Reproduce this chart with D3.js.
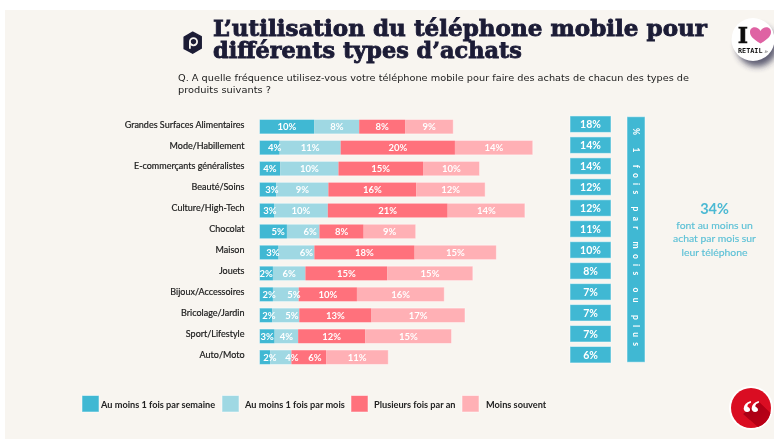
<!DOCTYPE html>
<html lang="fr"><head><meta charset="utf-8">
<script src="https://cdn.jsdelivr.net/npm/d3@7/dist/d3.min.js"></script>
<style>html,body{margin:0;padding:0;background:#fff;overflow:hidden}svg{display:block}</style>
</head><body><svg id="c" width="774" height="439"></svg>
<script>
// ---------- data ----------
const categories = ["Grandes Surfaces Alimentaires","Mode/Habillement","E-commerçants généralistes","Beauté/Soins","Culture/High-Tech","Chocolat","Maison","Jouets","Bijoux/Accessoires","Bricolage/Jardin","Sport/Lifestyle","Auto/Moto"];
const seriesNames = ["Au moins 1 fois par semaine","Au moins 1 fois par mois","Plusieurs fois par an","Moins souvent"];
const weekly  = [9.8,3.6,3.7,3.0,2.6,4.9,3.4,2.4,2.4,2.3,2.7,1.9];
const monthly = [8.0,10.9,10.4,9.3,9.6,5.8,6.4,5.8,4.6,4.8,4.2,3.8];
const yearly  = [8.2,20.4,15.1,15.7,21.4,7.9,17.9,14.6,10.4,12.9,12.0,6.2];
const rarely  = [8.6,13.9,10.1,12.3,13.8,9.3,14.6,15.3,15.6,16.7,15.4,11.1];
const monthlyOrMore = [18,14,14,12,12,11,10,8,7,7,7,6];
const titleLines = ["L’utilisation du téléphone mobile pour","différents types d’achats"];
const questionLines = ["Q. A quelle fréquence utilisez-vous votre téléphone mobile pour faire des achats de chacun des types de","produits suivants ?"];
const stripText = "% 1 fois par mois ou plus";
const calloutValue = "34%";
const calloutLines = ["font au moins un","achat par mois sur","leur téléphone"];

// ---------- layout / style ----------
const colors = ["#41b8d3","#9fd8e3","#ff717c","#ffb0b5"];
const legendX = [[82,101],[222,245],[351,374],[462,486]];
// sideways shift of some value labels, in px: [row, series, dx]
const labelNudge = [[1,0,5],[3,0,4],[4,0,3],[5,0,5],[5,1,7],[6,0,4],[6,1,10],[8,0,3],[8,1,8],[9,0,3],[9,1,6],[11,0,5],[11,1,11],[11,2,6]];
const nudge = (r,s)=>{const n=labelNudge.find(d=>d[0]===r&&d[1]===s);return n?n[2]:0;};
const sans = "Lato, 'Open Sans', sans-serif";

const svg = d3.select("#c");
const defs = svg.append("defs");
defs.append("filter").attr("id","soft").attr("x","-5%").attr("y","-5%").attr("width","110%").attr("height","110%")
  .append("feGaussianBlur").attr("stdDeviation",0.35);
defs.append("filter").attr("id","shadow").attr("x","-50%").attr("y","-50%").attr("width","200%").attr("height","200%")
  .append("feGaussianBlur").attr("stdDeviation",3);
const lg = defs.append("linearGradient").attr("id","fold").attr("x1",0).attr("y1",0).attr("x2",1).attr("y2",1);
lg.append("stop").attr("offset",0).attr("stop-color","#a00013");
lg.append("stop").attr("offset",1).attr("stop-color","#c00016");

svg.append("rect").attr("x",5).attr("y",10).attr("width",769).attr("height",429).attr("fill","#f8f5f0");
svg.append("circle").attr("cx",757).attr("cy",46).attr("r",20.5).attr("fill","#2c2c48").attr("opacity",.75).attr("filter","url(#shadow)");
const g = svg.append("g").attr("filter","url(#soft)");

// scales
const x = d3.scaleLinear().domain([0,50]).range([259.5,539.5]);
const y = d3.scaleBand().domain(categories).range([116.2,367.7]).paddingInner(0.31).paddingOuter(0.155);
const color = d3.scaleOrdinal().domain(seriesNames).range(colors);
const table = categories.map((c,i)=>({category:c,[seriesNames[0]]:weekly[i],[seriesNames[1]]:monthly[i],[seriesNames[2]]:yearly[i],[seriesNames[3]]:rarely[i]}));
const stacked = d3.stack().keys(seriesNames)(table);

// category axis
const yAxis = g.append("g").attr("transform","translate(250,-2)")
  .call(d3.axisLeft(y).tickSize(0).tickPadding(5.5));
yAxis.select(".domain").remove();
yAxis.selectAll("text").attr("font-family",sans).attr("font-size",9).attr("fill","#1c1c1c").attr("stroke","#1c1c1c").attr("stroke-width",.2);

// bars
const layers = g.selectAll("g.layer").data(stacked).join("g").attr("class","layer").attr("fill",d=>color(d.key));
layers.selectAll("rect").data(d=>d).join("rect")
  .attr("x",d=>x(d[0])).attr("width",d=>x(d[1])-x(d[0]))
  .attr("y",d=>y(d.data.category)).attr("height",y.bandwidth());
g.selectAll("rect.edge").data(categories).join("rect").attr("class","edge")
  .attr("x",x(0)).attr("y",d=>y(d)).attr("height",y.bandwidth())
  .attr("width",(d,i)=>x(weekly[i]+monthly[i]+yearly[i]+rarely[i])-x(0))
  .attr("fill","none").attr("stroke","#fff").attr("stroke-opacity",.45).attr("stroke-width",1);

// value labels
stacked.forEach((layer,s)=>{
  g.append("g").selectAll("text").data(layer).join("text")
    .attr("x",(d,r)=>(x(d[0])+x(d[1]))/2+nudge(r,s)).attr("y",d=>y(d.data.category)+y.bandwidth()/2)
    .attr("dy","0.36em").attr("text-anchor","middle")
    .attr("font-family",sans).attr("font-size",9.5).attr("font-weight",700).attr("fill","#fff")
    .text(d=>d3.format(".0f")(d[1]-d[0])+"%");
});

// right column
const boxes = g.append("g").attr("transform","translate(0,-2.5)");
boxes.selectAll("rect").data(categories).join("rect")
  .attr("x",570).attr("width",41).attr("y",d=>y(d)-1).attr("height",y.bandwidth()+2)
  .attr("fill",colors[0]).attr("stroke","#fff").attr("stroke-opacity",.5);
boxes.selectAll("text").data(categories).join("text")
  .attr("x",590.5).attr("y",d=>y(d)+y.bandwidth()/2).attr("dy","0.36em").attr("text-anchor","middle")
  .attr("font-family",sans).attr("font-size",10.5).attr("font-weight",700).attr("fill","#fff")
  .text((d,i)=>monthlyOrMore[i]+"%");
g.append("rect").attr("x",627).attr("y",116.7).attr("width",18).attr("height",245.5).attr("fill",colors[0]).attr("stroke","#fff").attr("stroke-opacity",.5);
g.append("text").attr("transform","translate(636,128) rotate(90)").attr("dy","0.34em")
  .attr("textLength",218).attr("lengthAdjust","spacing")
  .attr("font-family",sans).attr("font-size",8.5).attr("font-weight",700).attr("fill","#fff").text(stripText);

// callout
g.append("text").attr("x",714.5).attr("y",214).attr("text-anchor","middle").attr("font-family",sans)
  .attr("font-size",14.5).attr("font-weight",700).attr("fill","#4bb9d3").text(calloutValue);
g.append("g").selectAll("text").data(calloutLines).join("text")
  .attr("x",714.5).attr("y",(d,i)=>228.5+i*13.7).attr("text-anchor","middle").attr("font-family",sans)
  .attr("font-size",10.4).attr("fill","#5cc0d6").attr("stroke","#5cc0d6").attr("stroke-width",.15).text(d=>d);

// legend
const legend = g.append("g").selectAll("g").data(seriesNames).join("g");
legend.append("rect").attr("x",(d,i)=>legendX[i][0]).attr("y",395.5).attr("width",17).attr("height",16.5)
  .attr("fill",d=>color(d)).attr("stroke","#fff").attr("stroke-opacity",.5);
legend.append("text").attr("x",(d,i)=>legendX[i][1]).attr("y",408).attr("font-family",sans)
  .attr("font-size",9.2).attr("font-weight",700).attr("fill","#222").text(d=>d);

// title
g.append("g").selectAll("text").data(titleLines).join("text")
  .attr("x",213).attr("y",(d,i)=>36+i*21.7)
  .attr("textLength",(d,i)=>i?309:494).attr("lengthAdjust","spacingAndGlyphs")
  .attr("font-family","'DejaVu Serif',serif").attr("font-size",21.5).attr("font-weight",700)
  .attr("fill","#1b1b36").attr("stroke","#1b1b36").attr("stroke-width",.8).text(d=>d);
g.append("g").selectAll("text").data(questionLines).join("text")
  .attr("x",178).attr("y",(d,i)=>80.5+i*12)
  .attr("textLength",(d,i)=>i?93:511).attr("lengthAdjust","spacingAndGlyphs")
  .attr("font-family","'DejaVu Sans',sans-serif").attr("font-size",9.4).attr("fill","#222").text(d=>d);

// brand mark
const mark = g.append("g").attr("transform","translate(192.7,42.7)");
mark.append("path").attr("d","M0,-10.5L8.5,-6V5.5L0,10.5L-8.5,6V-5.5Z").attr("fill","#1b1b36").attr("stroke","#1b1b36").attr("stroke-width",1.5).attr("stroke-linejoin","round");
mark.append("circle").attr("cx",.8).attr("cy",-1).attr("r",3.6).attr("fill","none").attr("stroke","#f8f5f0").attr("stroke-width",1.8);
mark.append("path").attr("d","M-2.8,-1V6").attr("stroke","#f8f5f0").attr("stroke-width",1.8);

// I love retail badge
const badge = g.append("g").attr("transform","translate(753,39.5)");
badge.append("circle").attr("r",21.5).attr("fill","#fff");
badge.append("text").attr("x",-10).attr("y",3.5).attr("text-anchor","middle").attr("font-family","'DejaVu Serif',serif").attr("font-size",22).attr("font-weight",700).attr("fill","#111").attr("stroke","#111").attr("stroke-width",.5).text("I");
badge.append("path").attr("d","M7.5,4C-1,-1,-3,-4,-3,-7.5C-3,-13,4.5,-14,7.5,-8.5C10.5,-14,18,-13,18,-7.5C18,-4,16,-1,7.5,4Z").attr("fill","#df62a3");
badge.append("text").attr("x",-15).attr("y",13.5).attr("font-family","'DejaVu Sans Mono',monospace").attr("font-size",6.8).attr("font-weight",700).attr("fill","#111").text("RETAIL");
badge.append("text").attr("x",11.5).attr("y",13.5).attr("font-family",sans).attr("font-size",3.5).attr("fill","#333").text(".fr");

// quote badge
const quote = g.append("g").attr("transform","translate(751,408)");
quote.append("circle").attr("r",22).attr("fill","#fff");
quote.append("circle").attr("r",20).attr("fill","#da0f20");
quote.append("path").attr("d","M-8,6L8,-6L19.5,5A20,20 0 0 1 7,19Z").attr("fill","url(#fold)");
quote.append("text").attr("x",0).attr("y",17).attr("text-anchor","middle").attr("font-family","'Liberation Serif',serif").attr("font-size",36).attr("font-weight",700).attr("fill","#fff").text("“");
</script></body></html>
